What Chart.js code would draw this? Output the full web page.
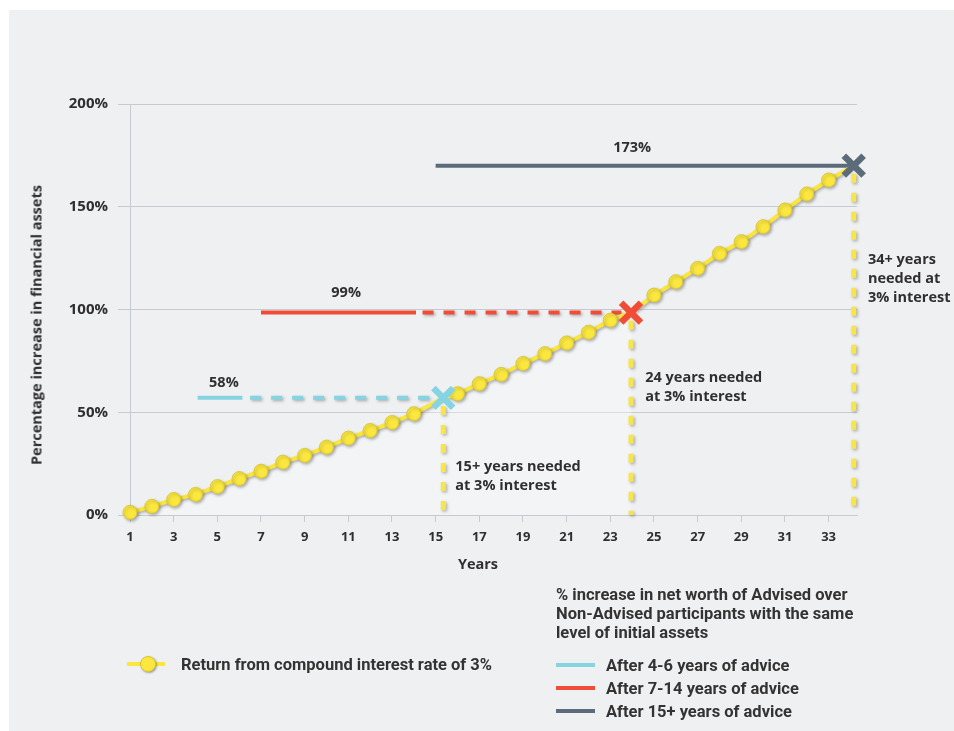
<!DOCTYPE html>
<html>
<head>
<meta charset="utf-8">
<script src="https://cdn.jsdelivr.net/npm/chart.js@4.4.1/dist/chart.umd.min.js"></script>
<style>
    body { margin: 0; background: #ffffff; width: 954px; height: 731px; overflow: hidden; position: relative; font-family: 'Open Sans', sans-serif; color: #2f2f30; }
    #panel { position: absolute; left: 9px; top: 10px; right: 0; bottom: 0; background: #eff0f2; }
    #chart { position: absolute; left: 0; top: 0; }
    .axis-title { position: absolute; font-weight: bold; font-size: 14.5px; color: #2f2f30; white-space: nowrap; }
    #ytitle { left: 36px; top: 325px; transform: translate(-50%, -50%) rotate(-90deg); }
    #xtitle { left: 478px; top: 563px; transform: translate(-50%, -50%); }
    .legend { position: absolute; font-family: 'Roboto', sans-serif; font-weight: bold; font-size: 16.5px; color: #333; white-space: nowrap; }
    .legend-row { position: absolute; display: flex; align-items: center; height: 20px; }
    .swatch { width: 39px; height: 4px; margin-right: 11px; }
    #legend-title { position: absolute; left: 556px; top: 585px; line-height: 19px; }
    .yellow-swatch { position: relative; width: 38px; height: 16px; margin-right: 16px; }
    .yellow-swatch .bar { position: absolute; left: 0; top: 6px; width: 38px; height: 4px; background: #fbe63c; }
    .yellow-swatch .dot { position: absolute; left: 13px; top: 0; width: 14px; height: 14px; border-radius: 50%; background: #fbe73d; border: 1px solid #d9c631; box-shadow: 1px 1px 2px rgba(60,60,60,0.45); }
</style>
</head>
<body>
<div id="panel"></div>
<canvas id="chart" width="954" height="731"></canvas>
<div class="axis-title" id="ytitle">Percentage increase in financial assets</div>
<div class="axis-title" id="xtitle">Years</div>

<div class="legend" id="legend-title">% increase in net worth of Advised over<br>Non-Advised participants with the same<br>level of initial assets</div>
<div class="legend legend-row" style="left:127px; top:654px;"><div class="yellow-swatch"><div class="bar"></div><div class="dot"></div></div>Return from compound interest rate of 3%</div>
<div class="legend legend-row" style="left:556px; top:655px;"><div class="swatch" style="background:#86d4e2"></div>After 4-6 years of advice</div>
<div class="legend legend-row" style="left:556px; top:678px;"><div class="swatch" style="background:#f04c36"></div>After 7-14 years of advice</div>
<div class="legend legend-row" style="left:556px; top:701px;"><div class="swatch" style="background:#5b6b79"></div>After 15+ years of advice</div>

<script>
// --- DONNEES ---
const years = [1, 2, 3, 4, 5, 6, 7, 8, 9, 10, 11, 12, 13, 14, 15, 16, 17, 18, 19, 20, 21, 22, 23, 24, 25, 26, 27, 28, 29, 30, 31, 32, 33, 34];
const compoundReturn = [1.3, 4.2, 7.5, 10, 13.8, 17.7, 21.3, 25.7, 29, 33, 37.4, 41.1, 45, 49.3, 57, 59, 63.9, 68.4, 73.7, 78.5, 83.7, 88.9, 94.8, 98.5, 107, 113.5, 120, 127.3, 133, 140.3, 148.4, 156.2, 163, 170];
const xTickLabels = [1, 3, 5, 7, 9, 11, 13, 15, 17, 19, 21, 23, 25, 27, 29, 31, 33];
const yTickLabels = [0, 50, 100, 150, 200];

// gain des participants conseillés (lignes horizontales + croix)
const adviceNames = ['After 4-6 years of advice', 'After 7-14 years of advice', 'After 15+ years of advice'];
const adviceLabels = ['58%', '99%', '173%'];
const adviceGain = [57, 98.5, 170];
const adviceYears = [15.35, 23.95, 34.15];       // années nécessaires à 3 %
const adviceStart = [4.1, 7.0, 15.0];
const adviceSolidEnd = [6.15, 14.1, 34.15];
const adviceDashStart = [6.5, 14.4, null];
const markerIndex = [14, 23, 33];                 // points remplacés par une croix

const noteTexts = [
    ['15+ years needed', 'at 3% interest'],
    ['24 years needed', 'at 3% interest'],
    ['34+ years', 'needed at', '3% interest']
];

// --- STYLES ---
const COLORS = ['#86d4e2', '#f04c36', '#5b6b79'];
const YELLOW = '#fbe63c';
const GRID = '#c6cbd3';
const TEXT = '#2f2f30';
// positions des textes (en unités de données)
const labelPos = [{ x: 5.3, y: 64.5 }, { x: 10.9, y: 108 }, { x: 24.0, y: 178.5 }];
const notePos = [{ x: 15.9, y: 23.6 }, { x: 24.6, y: 66.5 }, { x: 34.8, y: 124 }];

// --- CONSTRUCTION DES DATASETS ---
const curvePoints = years.map((yr, i) => {
    const m = markerIndex.indexOf(i);
    return { x: m >= 0 ? adviceYears[m] : yr, y: compoundReturn[i] };
});
const pointRadius = years.map((yr, i) => markerIndex.includes(i) ? 0 : 7);

const datasets = [];

// croix
adviceNames.forEach((name, i) => {
    datasets.push({
        type: 'scatter', label: name + ' (X)', order: 0, clip: false,
        data: [{ x: adviceYears[i], y: adviceGain[i] }],
        pointStyle: 'crossRot', pointRadius: 14, pointBorderWidth: 6.5,
        borderColor: COLORS[i], backgroundColor: COLORS[i], pointHoverRadius: 14
    });
});

// courbe intérêts composés
datasets.push({
    type: 'line', label: 'Return from compound interest rate of 3%', order: 1, clip: false, shadow: true,
    data: curvePoints, borderColor: YELLOW, borderWidth: 4, tension: 0,
    pointRadius: pointRadius, pointBackgroundColor: '#fbe73d', pointBorderColor: '#dcc832', pointBorderWidth: 1,
    fill: false
});

// lignes des conseillés
adviceNames.forEach((name, i) => {
    datasets.push({
        type: 'line', label: name, order: 2, clip: false,
        data: [{ x: adviceStart[i], y: adviceGain[i] }, { x: adviceSolidEnd[i], y: adviceGain[i] }],
        borderColor: COLORS[i], borderWidth: 4, pointRadius: 0, fill: false
    });
    if (adviceDashStart[i] !== null) {
        datasets.push({
            type: 'line', label: name + ' (dash)', order: 2, clip: false, shadow: true,
            data: [{ x: adviceDashStart[i], y: adviceGain[i] }, { x: adviceYears[i] - 0.45, y: adviceGain[i] }],
            borderColor: COLORS[i], borderWidth: 4, borderDash: [11, 10], pointRadius: 0, fill: false
        });
    }
});

// verticales jaunes pointillées
adviceYears.forEach((yr, i) => {
    datasets.push({
        type: 'line', label: 'needed ' + i, order: 3, clip: false, shadow: true,
        data: [{ x: yr, y: adviceGain[i] - 4 }, { x: yr, y: 0 }],
        borderColor: '#f8e54a', borderWidth: 5, borderDash: [9, 10], pointRadius: 0, fill: false
    });
});

// zone claire sous la courbe (jusqu'à 24 ans)
datasets.push({
    type: 'line', label: 'area', order: 4,
    data: curvePoints.slice(0, markerIndex[1] + 1),
    borderWidth: 0, borderColor: 'rgba(0,0,0,0)', pointRadius: 0,
    fill: 'origin', backgroundColor: 'rgba(250,252,255,0.35)'
});

// --- PLUGINS ---
const shadowPlugin = {
    id: 'shadow',
    beforeDatasetDraw(chart, args) {
        if (chart.data.datasets[args.index].shadow) {
            const ctx = chart.ctx;
            ctx.save();
            ctx.shadowColor = 'rgba(70,70,70,0.4)';
            ctx.shadowBlur = 3;
            ctx.shadowOffsetX = 1.5;
            ctx.shadowOffsetY = 1.5;
        }
    },
    afterDatasetDraw(chart, args) {
        if (chart.data.datasets[args.index].shadow) chart.ctx.restore();
    }
};

const textPlugin = {
    id: 'texts',
    afterDatasetsDraw(chart) {
        const ctx = chart.ctx;
        const xs = chart.scales.x, ys = chart.scales.y;
        ctx.save();
        ctx.fillStyle = TEXT;
        ctx.font = 'bold 14.5px "Open Sans"';
        ctx.textBaseline = 'middle';
        ctx.textAlign = 'center';
        adviceLabels.forEach((t, i) => {
            ctx.fillText(t, xs.getPixelForValue(labelPos[i].x), ys.getPixelForValue(labelPos[i].y));
        });
        ctx.textAlign = 'left';
        noteTexts.forEach((lines, i) => {
            const x = xs.getPixelForValue(notePos[i].x);
            const y = ys.getPixelForValue(notePos[i].y);
            lines.forEach((l, k) => ctx.fillText(l, x, y + k * 19));
        });
        ctx.restore();
    }
};

Chart.defaults.font.family = "'Open Sans', sans-serif";
Chart.defaults.font.weight = 'bold';
Chart.defaults.color = TEXT;

new Chart(document.getElementById('chart').getContext('2d'), {
    type: 'line',
    data: { datasets: datasets },
    options: {
        responsive: false,
        animation: false,
        layout: { padding: { top: 104, right: 97, left: 0, bottom: 0 } },
        plugins: { legend: { display: false }, tooltip: { enabled: false } },
        scales: {
            x: {
                type: 'linear', min: 1, max: 34.3,
                afterBuildTicks: s => { s.ticks = xTickLabels.map(v => ({ value: v })); },
                afterFit: s => { s.height = 216; },
                ticks: { font: { size: 13, weight: 'bold' }, padding: 7, autoSkip: false, maxRotation: 0, callback: v => String(v) },
                grid: { drawOnChartArea: false, color: GRID, tickLength: 7 },
                border: { color: GRID }
            },
            y: {
                min: 0, max: 200,
                afterBuildTicks: s => { s.ticks = yTickLabels.map(v => ({ value: v })); },
                afterFit: s => { s.width = 130; },
                ticks: { font: { size: 15, weight: 'bold' }, padding: 10, callback: v => v + '%' },
                grid: { color: GRID, tickLength: 12 },
                border: { color: GRID }
            }
        }
    },
    plugins: [shadowPlugin, textPlugin]
});
</script>
</body>
</html>
